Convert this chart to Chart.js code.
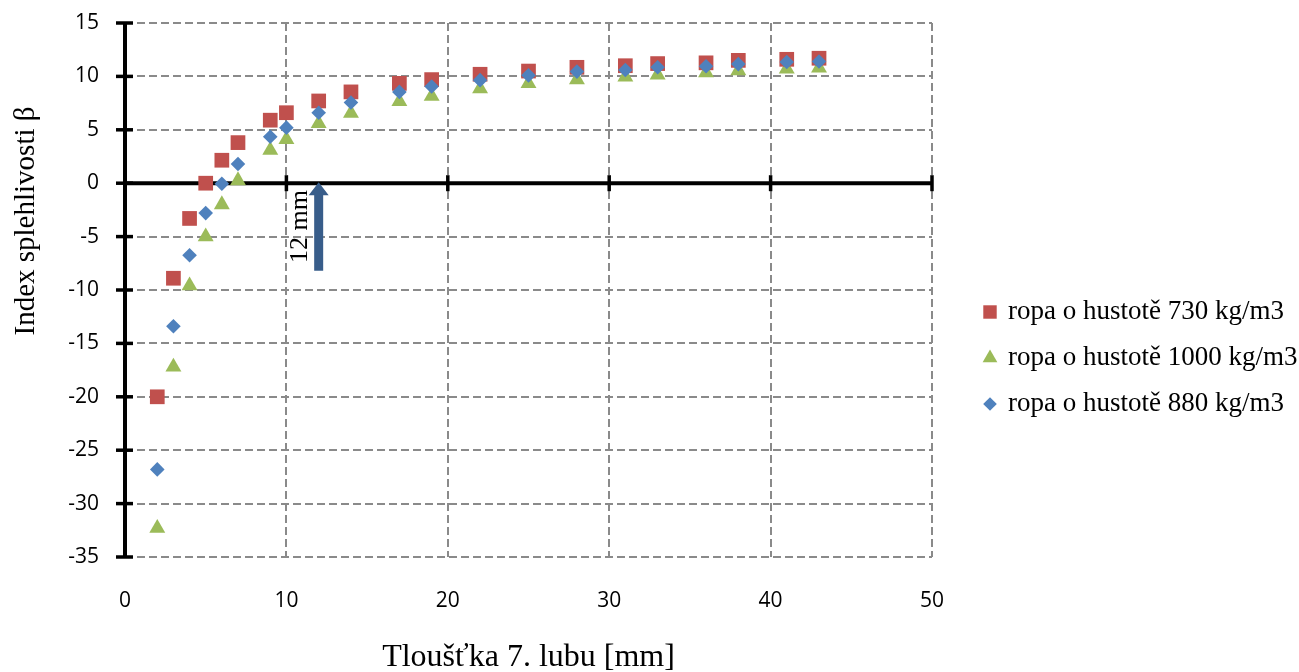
<!DOCTYPE html>
<html>
<head>
  <meta charset="utf-8">
  <title>Index spolehlivosti</title>
  <script src="https://cdn.jsdelivr.net/npm/chart.js"></script>
  <style>
    html, body { margin: 0; padding: 0; background: #fff; }
    #wrap { width: 1299px; height: 672px; }
  </style>
</head>
<body>
  <div id="wrap"><canvas id="betaChart"></canvas></div>

  <script>
    // tloušťka lubu [mm] a index spolehlivosti pro tři hustoty ropy
    const tloustka = [2, 3, 4, 5, 6, 7, 9, 10, 12, 14, 17, 19, 22, 25, 28, 31, 33, 36, 38, 41, 43];
    const beta730  = [-20.0, -8.9, -3.3, 0.0, 2.15, 3.8, 5.9, 6.6, 7.7, 8.55, 9.35, 9.7, 10.2, 10.5, 10.85, 11.0, 11.2, 11.27, 11.5, 11.6, 11.7];
    const beta1000 = [-32.3, -17.2, -9.6, -5.0, -2.0, 0.25, 3.1, 4.1, 5.6, 6.55, 7.65, 8.15, 8.85, 9.35, 9.7, 9.95, 10.15, 10.35, 10.55, 10.7, 10.8];
    const beta880  = [-26.8, -13.4, -6.75, -2.8, -0.05, 1.8, 4.35, 5.2, 6.6, 7.55, 8.55, 9.05, 9.65, 10.1, 10.45, 10.6, 10.85, 10.95, 11.15, 11.35, 11.4];

    const seriesLabels = ['ropa o hustotě 730 kg/m3', 'ropa o hustotě 1000 kg/m3', 'ropa o hustotě 880 kg/m3'];
    const xTitle = 'Tloušťka 7. lubu [mm]';
    const yTitle = 'Index splehlivosti β';

    // šipka u 12 mm
    const arrowX = 12;
    const arrowFrom = -8.2;
    const arrowTo = 0;
    const arrowText = '12 mm';

    const RED = '#C0504D', GREEN = '#9BBB59', BLUE = '#4F81BD';
    const GRID = '#8a8a8a';
    const SERIF = '"Liberation Serif", "Times New Roman", serif';

    Chart.defaults.font.family = '"Open Sans", "Liberation Sans", sans-serif';
    Chart.defaults.color = '#000';

    const toPoints = ys => tloustka.map((x, i) => ({ x: x, y: ys[i] }));

    function shape(ctx, style, cx, cy, r) {
      ctx.beginPath();
      if (style === 'rect') {
        const s = r * Math.SQRT1_2;
        ctx.rect(cx - s, cy - s, 2 * s, 2 * s);
      } else if (style === 'triangle') {
        for (let k = 0; k < 3; k++) {
          const a = k * 2 * Math.PI / 3;
          const px = cx + Math.sin(a) * r, py = cy - Math.cos(a) * r;
          if (k === 0) ctx.moveTo(px, py); else ctx.lineTo(px, py);
        }
        ctx.closePath();
      } else {
        ctx.moveTo(cx - r, cy); ctx.lineTo(cx, cy - r);
        ctx.lineTo(cx + r, cy); ctx.lineTo(cx, cy + r);
        ctx.closePath();
      }
      ctx.fill();
    }

    const decor = {
      id: 'decor',
      beforeDatasetsDraw(chart) {
        const { ctx, chartArea, scales: { x, y } } = chart;
        const y0 = y.getPixelForValue(0);
        ctx.save();
        ctx.strokeStyle = '#000';
        ctx.lineWidth = 4;
        // osa x v nule a svislá osa y
        ctx.beginPath();
        ctx.moveTo(chartArea.left, y0);
        ctx.lineTo(chartArea.right, y0);
        ctx.moveTo(chartArea.left, chartArea.top - 1);
        ctx.lineTo(chartArea.left, chartArea.bottom + 1);
        ctx.stroke();
        ctx.lineWidth = 3.5;
        x.ticks.forEach(t => {
          if (t.value === 0) return;
          const px = x.getPixelForValue(t.value);
          ctx.beginPath(); ctx.moveTo(px, y0 - 8); ctx.lineTo(px, y0 + 8); ctx.stroke();
        });
        y.ticks.forEach(t => {
          const py = y.getPixelForValue(t.value);
          ctx.beginPath(); ctx.moveTo(chartArea.left - 9, py); ctx.lineTo(chartArea.left + 8, py); ctx.stroke();
        });
        // název osy y (v originále posunutý nad střed)
        ctx.translate(26, 221);
        ctx.rotate(-Math.PI / 2);
        ctx.font = '29px ' + SERIF;
        ctx.fillStyle = '#000';
        ctx.textAlign = 'center';
        ctx.textBaseline = 'middle';
        ctx.fillText(yTitle, 0, 0);
        ctx.restore();
      },
      afterDatasetsDraw(chart) {
        const { ctx, scales: { x, y } } = chart;
        // šipka
        const ax = x.getPixelForValue(arrowX);
        const tip = y.getPixelForValue(arrowTo) - 1;
        const tail = y.getPixelForValue(arrowFrom);
        ctx.save();
        ctx.fillStyle = '#385D8A';
        ctx.beginPath();
        ctx.moveTo(ax, tip);
        ctx.lineTo(ax + 10, tip + 13);
        ctx.lineTo(ax + 4.5, tip + 13);
        ctx.lineTo(ax + 4.5, tail);
        ctx.lineTo(ax - 4.5, tail);
        ctx.lineTo(ax - 4.5, tip + 13);
        ctx.lineTo(ax - 10, tip + 13);
        ctx.closePath();
        ctx.fill();
        // popisek šipky
        ctx.translate(ax - 19, (tip + tail) / 2);
        ctx.rotate(-Math.PI / 2);
        ctx.fillStyle = '#000';
        ctx.font = '26px ' + SERIF;
        ctx.textAlign = 'center';
        ctx.textBaseline = 'middle';
        ctx.fillText(arrowText, 0, 0);
        ctx.restore();

        // legenda
        ctx.save();
        ctx.font = '27px ' + SERIF;
        ctx.textBaseline = 'middle';
        chart.data.datasets.forEach((ds, i) => {
          const ly = 312 + i * 46;
          ctx.fillStyle = ds.backgroundColor;
          shape(ctx, ds.pointStyle, 990, ly, ds.legendRadius);
          ctx.fillStyle = '#000';
          ctx.fillText(ds.label, 1008, ly);
        });
        ctx.restore();
      }
    };

    new Chart(document.getElementById('betaChart'), {
      type: 'scatter',
      data: {
        datasets: [
          { label: seriesLabels[0], data: toPoints(beta730), pointStyle: 'rect', pointRadius: 10.4,
            backgroundColor: RED, borderColor: RED, borderWidth: 0, order: 1, legendRadius: 9.5 },
          { label: seriesLabels[1], data: toPoints(beta1000), pointStyle: 'triangle', pointRadius: 9.2,
            backgroundColor: GREEN, borderColor: GREEN, borderWidth: 0, order: 2, legendRadius: 8.5 },
          { label: seriesLabels[2], data: toPoints(beta880), pointStyle: 'rectRot', pointRadius: 7.3,
            backgroundColor: BLUE, borderColor: BLUE, borderWidth: 0, order: 0, legendRadius: 6.8 }
        ]
      },
      options: {
        responsive: true,
        maintainAspectRatio: false,
        animation: false,
        events: [],
        layout: { padding: { top: 23, right: 367, bottom: 0, left: 0 } },
        plugins: { legend: { display: false }, tooltip: { enabled: false } },
        scales: {
          x: {
            type: 'linear', min: 0, max: 50,
            ticks: { stepSize: 10, padding: 31, font: { size: 21 } },
            grid: { color: GRID, lineWidth: 2, drawTicks: false },
            border: { display: false, dash: [8, 4] },
            title: { display: true, text: xTitle, font: { family: SERIF, size: 32 }, padding: { top: 0, bottom: -5 } },
            afterFit: s => { s.height = 115; }
          },
          y: {
            min: -35, max: 15,
            ticks: { stepSize: 5, padding: 0, font: { size: 21 } },
            grid: { color: GRID, lineWidth: 2, drawTicks: true, tickLength: 26, tickColor: 'rgba(0,0,0,0)' },
            border: { display: false, dash: [8, 4] },
            title: { display: false },
            afterFit: s => { s.width = 125; }
          }
        }
      },
      plugins: [decor]
    });
  </script>
</body>
</html>
